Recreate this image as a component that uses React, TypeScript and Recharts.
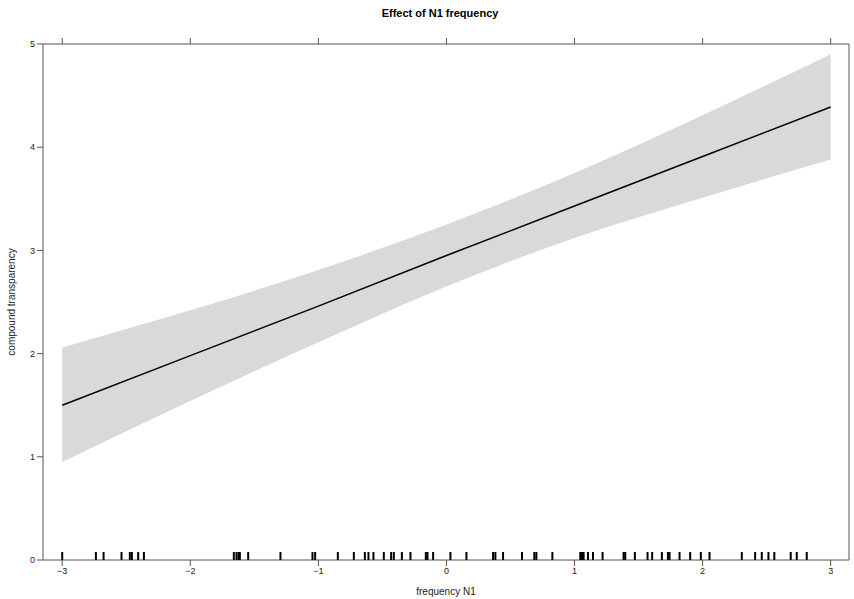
import React from "react";
import {
  ComposedChart,
  Area,
  Line,
  Scatter,
  XAxis,
  YAxis,
} from "recharts";

// fitted effect of N1 frequency with 95% band
const fitX = [-3, -2, -1, 0, 1, 2, 3];
const fitY = [1.5, 1.98, 2.46, 2.95, 3.43, 3.91, 4.39];
const lower = [0.95, 1.54, 2.11, 2.65, 3.12, 3.51, 3.88];
const upper = [2.06, 2.42, 2.81, 3.25, 3.75, 4.31, 4.9];

// observed frequency values (rug along the bottom)
const rugValues = [
  -3.0, -2.737, -2.677, -2.537, -2.472, -2.456, -2.407, -2.362, -1.66, -1.639,
  -1.623, -1.613, -1.548, -1.296, -1.046, -1.025, -0.848, -0.723, -0.637,
  -0.609, -0.57, -0.489, -0.432, -0.411, -0.348, -0.281, -0.161, -0.148,
  -0.104, 0.031, 0.156, 0.364, 0.382, 0.442, 0.59, 0.686, 0.702, 0.827, 1.045,
  1.058, 1.071, 1.105, 1.144, 1.219, 1.383, 1.396, 1.471, 1.57, 1.606, 1.682,
  1.729, 1.742, 1.82, 1.903, 1.986, 2.054, 2.306, 2.41, 2.462, 2.514, 2.56,
  2.688, 2.735, 2.813,
];

const xTicks = [-3, -2, -1, 0, 1, 2, 3];
const yTicks = [0, 1, 2, 3, 4, 5];

const fitData = fitX.map((x, i) => ({ x, y: fitY[i], band: [lower[i], upper[i]] }));
const rugData = rugValues.map((x) => ({ x, y: 0 }));

const fmt = (v: number) => (v < 0 ? "\u2212" + Math.abs(v) : String(v));
const blank = () => "";
const axisColor = "#555";
const tickStyle = { fill: "#222", fontSize: 9 };

const RugMark = (props: any) => (
  <line
    x1={props.cx}
    x2={props.cx}
    y1={props.cy - 8}
    y2={props.cy}
    stroke="#000"
    strokeWidth={2}
  />
);

export default function App() {
  return (
    <div
      style={{
        position: "absolute",
        left: 0,
        top: 0,
        width: 854,
        height: 599,
        background: "#fff",
        fontFamily: "'Liberation Sans', Arial, sans-serif",
      }}
    >
      <ComposedChart
        width={854}
        height={599}
        data={fitData}
        margin={{ top: 0, right: 0, bottom: 0, left: 0 }}
      >
        <XAxis
          xAxisId="b"
          type="number"
          dataKey="x"
          domain={[-3.15, 3.143]}
          ticks={xTicks}
          tickFormatter={fmt}
          allowDataOverflow
          height={39}
          tick={tickStyle}
          tickSize={6}
          stroke={axisColor}
          label={{
            value: "frequency N1",
            position: "insideBottom",
            offset: 4,
            style: { fontSize: 10, fill: "#222" },
          }}
        />
        <XAxis
          xAxisId="t"
          orientation="top"
          type="number"
          dataKey="x"
          domain={[-3.15, 3.143]}
          ticks={xTicks}
          tickFormatter={blank}
          allowDataOverflow
          height={44}
          tick={tickStyle}
          tickSize={6}
          stroke={axisColor}
          label={{
            value: "Effect of N1 frequency",
            position: "insideTop",
            offset: 9,
            dx: -6,
            style: { fontSize: 11, fontWeight: "bold", fill: "#000" },
          }}
        />
        <YAxis
          yAxisId="l"
          type="number"
          domain={[0, 5]}
          ticks={yTicks}
          width={43}
          tick={tickStyle}
          tickSize={6}
          stroke={axisColor}
          label={{
            value: "compound transparency",
            angle: -90,
            position: "insideLeft",
            offset: 11,
            style: { fontSize: 10, fill: "#222", textAnchor: "middle" },
          }}
        />
        <YAxis
          yAxisId="r"
          orientation="right"
          type="number"
          domain={[0, 5]}
          ticks={yTicks}
          tickFormatter={blank}
          width={5}
          tick={tickStyle}
          tickSize={6}
          stroke={axisColor}
        />
        <Area
          xAxisId="b"
          yAxisId="l"
          type="monotone"
          dataKey="band"
          fill="#d9d9d9"
          fillOpacity={1}
          stroke="none"
          isAnimationActive={false}
        />
        <Line
          xAxisId="b"
          yAxisId="l"
          type="linear"
          dataKey="y"
          stroke="#000"
          strokeWidth={1.5}
          dot={false}
          isAnimationActive={false}
        />
        <Scatter
          xAxisId="b"
          yAxisId="l"
          data={rugData}
          dataKey="y"
          shape={RugMark}
          isAnimationActive={false}
        />
      </ComposedChart>
    </div>
  );
}
